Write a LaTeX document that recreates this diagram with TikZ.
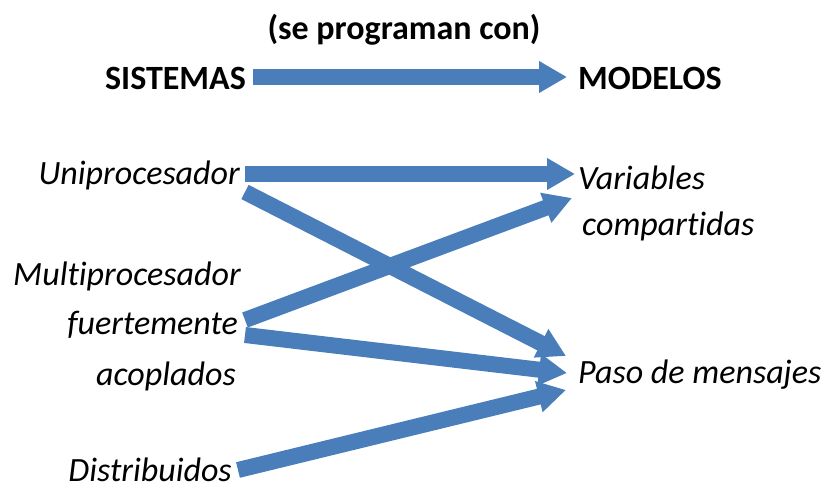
\documentclass[tikz,border=0pt]{standalone}
\usepackage{fontspec}
\setmainfont{Carlito}[Ligatures={NoCommon}]
\usetikzlibrary{arrows.meta}
\begin{document}
\begin{tikzpicture}[x=1pt,y=1pt,
  bigarrow/.style={draw={rgb,255:red,74;green,126;blue,187}, line width=16pt,
    -{Triangle[length=28pt,width=30pt]}},
  hdr/.style={font=\fontsize{34}{38}\selectfont\bfseries, inner sep=0pt},
  itl/.style={font=\fontsize{34}{38}\selectfont\itshape, inner sep=0pt}]
\useasboundingbox (0,0) rectangle (836,491);
% labels (y measured from top: y = 491 - y_img)
\node[hdr] (prog) at (404,461) {(se programan con)};
\node[hdr, anchor=east] (sis) at (246,413) {SISTEMAS};
\node[hdr, anchor=west] (mod) at (578,413) {MODELOS};
\node[itl, anchor=east] (uni) at (240,316) {Uniprocesador};
\node[itl, anchor=east] (mul) at (241,215) {Multiprocesador};
\node[itl, anchor=east] (fue) at (238,166) {fuertemente};
\node[itl, anchor=east] (aco) at (236,115) {acoplados};
\node[itl, anchor=east] (dis) at (232,21) {Distribuidos};
\node[itl, anchor=west] (var) at (578,313) {Variables};
\node[itl, anchor=west] (com) at (582,265) {compartidas};
\node[itl, anchor=west] (pas) at (578,116) {Paso de mensajes};
% arrow end points
\coordinate (s1) at (253,414); \coordinate (e1) at (567,414);
\coordinate (s2) at (245,317); \coordinate (e2) at (575,317);
\coordinate (s3) at (245,299); \coordinate (e3) at (566,135);
\coordinate (s4) at (245,171); \coordinate (e4) at (572,293);
\coordinate (s5) at (245,156); \coordinate (e5) at (567,118);
\coordinate (s6) at (238,21);  \coordinate (e6) at (566,101);
\draw[bigarrow] (s1) -- (e1);
\draw[bigarrow] (s2) -- (e2);
\draw[bigarrow] (s3) -- (e3);
\draw[bigarrow] (s4) -- (e4);
\draw[bigarrow] (s5) -- (e5);
\draw[bigarrow] (s6) -- (e6);
\end{tikzpicture}
\end{document}
